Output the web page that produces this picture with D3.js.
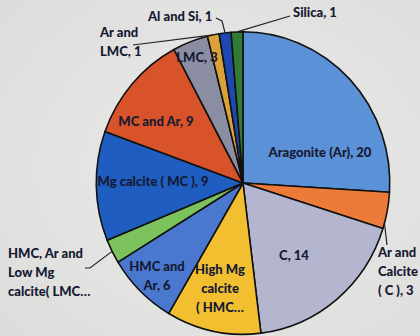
<!DOCTYPE html>
<html>
<head>
<meta charset="utf-8">
<script src="https://cdn.jsdelivr.net/npm/d3@7/dist/d3.min.js"></script>
<style>
  html, body { margin: 0; padding: 0; background: #e6e6e4; }
  svg { display: block; }
  text { font-family: Lato, "Open Sans", sans-serif; font-weight: 900; fill: #161a33; }
</style>
</head>
<body>
<svg id="chart" width="420" height="336"></svg>
<script>
// Mineralogy categories, clockwise from 12 o'clock
const categories = [
  "Aragonite (Ar)", "Ar and Calcite ( C )", "C", "High Mg calcite ( HMC)",
  "HMC and Ar", "HMC, Ar and Low Mg calcite( LMC)", "Mg calcite ( MC )",
  "MC and Ar", "LMC", "Ar and LMC", "Al and Si", "Silica"
];
const counts = [20, 3, 14, 8, 6, 2, 9, 9, 3, 1, 1, 1];
const colors = [
  "#5b91d7", "#ec7a38", "#b4b6cf", "#f1bf30",
  "#4a78cf", "#7cc35e", "#1f5dc1", "#d8532a",
  "#8b8da2", "#dba23a", "#1e47b0", "#2f7c34"
];
// Label text lines as shown on the chart
const labelLines = [
  ["Aragonite (Ar), 20"],
  ["Ar and", "Calcite", "( C ), 3"],
  ["C, 14"],
  ["High Mg", "calcite", "( HMC\u2026"],
  ["HMC and", "Ar, 6"],
  ["HMC, Ar and", "Low Mg", "calcite( LMC\u2026"],
  ["Mg calcite ( MC ), 9"],
  ["MC and Ar, 9"],
  ["LMC, 3"],
  ["Ar and", "LMC, 1"],
  ["Al and Si, 1"],
  ["Silica, 1"]
];

// Layout: label anchors and leader lines (outside labels only)
const layout = [
  { x: 320, y: 157, anchor: "middle" },
  { x: 378, y: 257, anchor: "start", leader: { at: 0.85, pts: [[387, 245]] } },
  { x: 294, y: 260, anchor: "middle" },
  { x: 220, y: 274, anchor: "middle" },
  { x: 157, y: 271, anchor: "middle" },
  { x: 8, y: 258, anchor: "start", leader: { at: 0.5, pts: [[90, 268], [85, 268]] } },
  { x: 153, y: 186, anchor: "middle" },
  { x: 156, y: 126, anchor: "middle" },
  { x: 197, y: 62, anchor: "middle" },
  { x: 100, y: 37, anchor: "start", leader: { at: 0.5, pts: [[133, 45]] } },
  { x: 148, y: 21, anchor: "start", leader: { at: 0.5, pts: [[222, 21], [216, 18]] } },
  { x: 293, y: 17, anchor: "start", leader: { at: 0.5, pts: [[290, 16]] } }
];
const lineGap = 19;
const fontSize = 13;

const svg = d3.select("#chart");
const W = 420, H = 336;
const cx = 243, cy = 183, R = 149;

// soft paper-like backdrop
const defs = svg.append("defs");
const bg = defs.append("radialGradient").attr("id", "bg").attr("cx", "55%").attr("cy", "50%").attr("r", "75%");
bg.append("stop").attr("offset", "0%").attr("stop-color", "#ebebe9");
bg.append("stop").attr("offset", "100%").attr("stop-color", "#dcdcda");
svg.append("rect").attr("width", W).attr("height", H).attr("fill", "url(#bg)");

const data = categories.map((c, i) => ({ name: c, value: counts[i], i }));
const pie = d3.pie().value(d => d.value).sort(null);
const arcs = pie(data);
const arc = d3.arc().innerRadius(0).outerRadius(R);

const g = svg.append("g").attr("transform", `translate(${cx},${cy}) scale(0.985,1.015)`);
g.selectAll("path.slice")
  .data(arcs)
  .join("path")
  .attr("class", "slice")
  .attr("d", arc)
  .attr("fill", d => colors[d.data.i])
  .attr("stroke", "#111")
  .attr("stroke-width", 1.6)
  .attr("stroke-linejoin", "round");

// leader lines from the rim to outside labels
const rimPoint = (d, f) => {
  const a = d.startAngle + (d.endAngle - d.startAngle) * f;
  return [cx + R * 0.985 * Math.sin(a), cy - R * 1.015 * Math.cos(a)];
};
arcs.forEach(d => {
  const L = layout[d.data.i];
  if (!L.leader) return;
  const p0 = rimPoint(d, L.leader.at);
  const pts = [p0].concat(L.leader.pts);
  svg.append("path")
    .attr("d", d3.line()(pts))
    .attr("fill", "none")
    .attr("stroke", "#222")
    .attr("stroke-width", 1.2);
});

// labels
arcs.forEach(d => {
  const L = layout[d.data.i];
  const t = svg.append("text")
    .attr("x", L.x).attr("y", L.y)
    .attr("text-anchor", L.anchor)
    .attr("font-size", fontSize);
  labelLines[d.data.i].forEach((s, k) => {
    t.append("tspan").attr("x", L.x).attr("y", L.y + k * lineGap).text(s);
  });
});
</script>
</body>
</html>
